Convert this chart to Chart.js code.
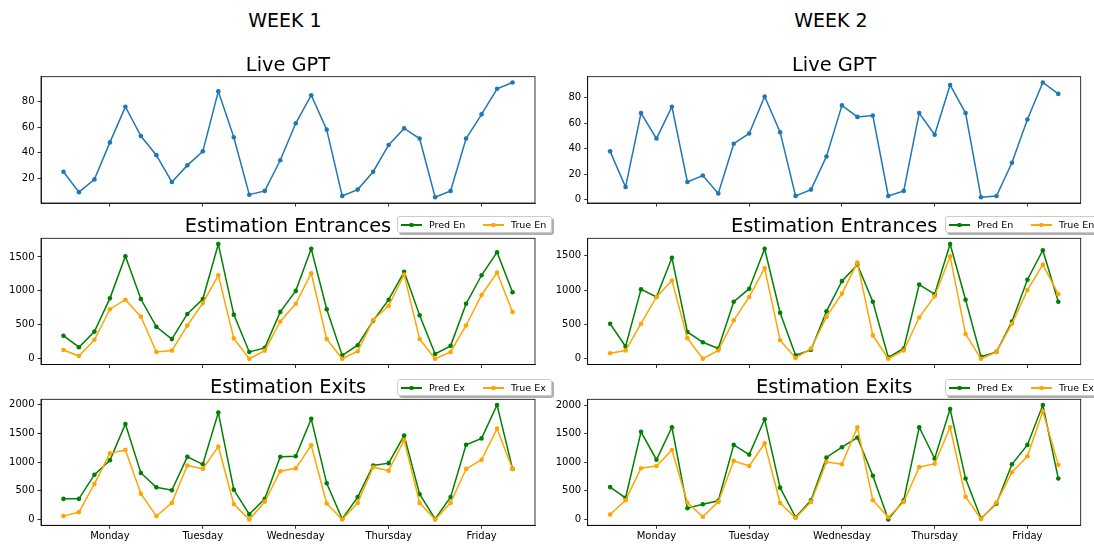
<!DOCTYPE html>
<html>
<head>
<meta charset="utf-8">
<script src="https://cdn.jsdelivr.net/npm/chart.js@4/dist/chart.umd.min.js"></script>
<style>
  html, body { margin: 0; padding: 0; background: #fff; overflow: hidden; }
  #fig { position: relative; width: 1094px; height: 544px; background: #fff; overflow: hidden;
         font-family: "DejaVu Sans", sans-serif; color: #000; }
  canvas.panel { position: absolute; }
  .txt { position: absolute; white-space: nowrap; line-height: 1; transform: translateX(-50%); }
  .legend { position: absolute; width: 155px; height: 17px; box-sizing: border-box;
            border: 1px solid #cccccc; border-radius: 3px; background: rgba(255,255,255,0.85);
            box-shadow: 2px 2px 0 rgba(110,110,110,0.55); font-size: 9.5px; }
  .legend .line { position: absolute; top: 7px; width: 21px; height: 1.5px; }
  .legend .dot { position: absolute; top: 5.5px; width: 4.5px; height: 4.5px; border-radius: 50%; }
  .legend .lab { position: absolute; top: 0; line-height: 15px; }
</style>
</head>
<body>
<div id="fig"></div>
<script>
// Time slots: six per weekday, Monday..Friday
const slots = Array.from({ length: 30 }, (_, i) => i);
const days = ['Monday', 'Tuesday', 'Wednesday', 'Thursday', 'Friday'];
const dayTickPos = [3, 9, 15, 21, 27];

// Week 1
const gptWeek1 = [25, 9, 19, 48, 76, 53, 38, 17, 30, 41, 88, 52, 7, 10, 34, 63, 85, 58, 6, 11, 25, 46, 59, 51, 5, 10, 51, 70, 90, 95];
const predEnWeek1 = [340, 170, 400, 890, 1510, 880, 470, 290, 660, 880, 1690, 650, 100, 160, 690, 1000, 1620, 730, 50, 200, 560, 870, 1280, 640, 70, 190, 810, 1230, 1570, 980];
const trueEnWeek1 = [130, 40, 280, 730, 870, 620, 100, 120, 490, 820, 1230, 300, 0, 120, 550, 810, 1260, 290, 0, 110, 570, 780, 1240, 290, 0, 100, 490, 940, 1270, 690];
const predExWeek1 = [360, 360, 780, 1030, 1660, 810, 560, 510, 1090, 960, 1860, 520, 90, 360, 1090, 1100, 1750, 630, 10, 390, 940, 980, 1460, 440, 10, 390, 1300, 1410, 1990, 880];
const trueExWeek1 = [60, 130, 620, 1150, 1210, 450, 60, 290, 940, 880, 1270, 270, 0, 310, 840, 890, 1290, 280, 0, 290, 910, 850, 1380, 290, 0, 290, 880, 1040, 1580, 880];

// Week 2
const gptWeek2 = [38, 10, 68, 48, 73, 14, 19, 5, 44, 52, 81, 53, 3, 8, 34, 74, 65, 66, 3, 7, 68, 51, 90, 68, 2, 3, 29, 63, 92, 83];
const predEnWeek2 = [510, 180, 1010, 900, 1470, 390, 240, 150, 830, 1020, 1600, 670, 50, 130, 690, 1130, 1370, 830, 20, 150, 1080, 940, 1670, 860, 30, 100, 540, 1150, 1580, 830];
const trueEnWeek2 = [80, 120, 510, 900, 1140, 300, 0, 120, 560, 900, 1320, 270, 10, 150, 610, 950, 1400, 340, 0, 120, 600, 910, 1490, 360, 0, 100, 510, 1000, 1370, 940];
const predExWeek2 = [560, 370, 1530, 1040, 1610, 190, 260, 320, 1300, 1130, 1750, 550, 30, 330, 1080, 1260, 1430, 760, -10, 330, 1610, 1060, 1930, 710, 10, 270, 960, 1300, 2000, 710];
const trueExWeek2 = [80, 330, 890, 930, 1210, 290, 40, 300, 1020, 930, 1330, 280, 20, 300, 1000, 960, 1610, 330, 30, 300, 910, 970, 1610, 390, 0, 290, 820, 1100, 1890, 950];

// Y tick values per panel
const gptTicksWeek1 = [20, 40, 60, 80];
const gptTicksWeek2 = [0, 20, 40, 60, 80];
const enTicks = [0, 500, 1000, 1500];
const exTicks = [0, 500, 1000, 1500, 2000];

const BLUE = '#1f77b4', GREEN = '#008000', ORANGE = '#ffa500';
const FONT = '"DejaVu Sans", sans-serif';
const fig = document.getElementById('fig');

// Axes frame on all four sides of the plot area
const framePlugin = {
  id: 'frame',
  afterDraw(chart) {
    const { ctx, chartArea: a } = chart;
    ctx.save();
    ctx.strokeStyle = '#000';
    ctx.lineWidth = 0.8;
    ctx.strokeRect(a.left, a.top, a.right - a.left, a.bottom - a.top);
    ctx.restore();
  }
};

// Data limits padded by 5% on each side
function paddedRange(series) {
  const all = series.flat();
  const lo = Math.min(...all), hi = Math.max(...all);
  const m = (hi - lo) * 0.05;
  return [lo - m, hi + m];
}

function lineDataset(label, values, color, order) {
  return {
    label, data: values, borderColor: color, backgroundColor: color,
    borderWidth: 1.5, pointRadius: 2.3, pointHoverRadius: 2.3, pointBorderWidth: 0,
    pointBackgroundColor: color, tension: 0, fill: false, order
  };
}

// Column geometry: canvas left, plot left (in canvas), plot right padding
const cols = [
  { left: 0, yw: 41, padR: 12, titleX: 288, supX: 285 },
  { left: 547, yw: 40.7, padR: 13.3, titleX: 834.2, supX: 831 }
];
// Row geometry: canvas top, plot top, plot bottom
const rows = [
  { top: 66, plotTop: 76.7, plotBottom: 203 },
  { top: 228, plotTop: 238.3, plotBottom: 364.5 },
  { top: 389, plotTop: 399.3, plotBottom: 525.3 }
];
const CANVAS_H = 160, CANVAS_W = 547;

function addText(str, cx, baseline, size) {
  const d = document.createElement('div');
  d.className = 'txt';
  d.textContent = str;
  d.style.fontSize = size + 'px';
  d.style.left = cx + 'px';
  d.style.top = (baseline - 0.846 * size) + 'px';
  fig.appendChild(d);
}

function addLegend(chart, left, top) {
  const box = document.createElement('div');
  box.className = 'legend';
  box.style.left = left + 'px';
  box.style.top = top + 'px';
  const offs = [3, 85];
  chart.data.datasets.forEach((ds, i) => {
    const ln = document.createElement('div');
    ln.className = 'line';
    ln.style.left = offs[i] + 'px';
    ln.style.background = ds.borderColor;
    const dt = document.createElement('div');
    dt.className = 'dot';
    dt.style.left = (offs[i] + 8.25) + 'px';
    dt.style.background = ds.borderColor;
    const lb = document.createElement('div');
    lb.className = 'lab';
    lb.style.left = (offs[i] + 28) + 'px';
    lb.textContent = ds.label;
    box.appendChild(ln); box.appendChild(dt); box.appendChild(lb);
  });
  fig.appendChild(box);
}

function makePanel(col, row, datasets, yTicks, showDays) {
  const c = document.createElement('canvas');
  c.className = 'panel';
  c.width = CANVAS_W; c.height = CANVAS_H;
  c.style.left = col.left + 'px';
  c.style.top = row.top + 'px';
  c.style.width = CANVAS_W + 'px';
  c.style.height = CANVAS_H + 'px';
  fig.appendChild(c);

  const padTop = row.plotTop - row.top;
  const plotH = row.plotBottom - row.plotTop;
  const xh = CANVAS_H - padTop - plotH;
  const [ymin, ymax] = paddedRange(datasets.map(d => d.data));

  return new Chart(c.getContext('2d'), {
    type: 'line',
    data: { labels: slots, datasets },
    plugins: [framePlugin],
    options: {
      responsive: false, animation: false, devicePixelRatio: 1,
      layout: { padding: { top: padTop, left: 0, right: col.padR, bottom: 0 } },
      plugins: { legend: { display: false }, title: { display: false }, tooltip: { enabled: false } },
      events: [],
      scales: {
        x: {
          type: 'linear', min: -1.45, max: 30.45,
          afterBuildTicks: ax => { ax.ticks = dayTickPos.map(v => ({ value: v })); },
          afterFit: ax => { ax.height = xh; },
          ticks: {
            autoSkip: false, maxRotation: 0, padding: 2, color: '#000',
            font: { family: FONT, size: 10 },
            callback: v => showDays ? days[dayTickPos.indexOf(v)] : ''
          },
          grid: { drawOnChartArea: false, drawTicks: true, tickLength: 3.5, color: '#000', lineWidth: 0.8 },
          border: { display: true, color: '#000', width: 0.8 }
        },
        y: {
          type: 'linear', min: ymin, max: ymax,
          afterBuildTicks: ax => { ax.ticks = yTicks.map(v => ({ value: v })); },
          afterFit: ax => { ax.width = col.yw; },
          ticks: {
            padding: 3, color: '#000', font: { family: FONT, size: 10 },
            callback: v => String(v)
          },
          grid: { drawOnChartArea: false, drawTicks: true, tickLength: 3.5, color: '#000', lineWidth: 0.8 },
          border: { display: true, color: '#000', width: 0.8 }
        }
      }
    }
  });
}

const weeks = [
  { name: 'WEEK 1', gpt: gptWeek1, gptTicks: gptTicksWeek1, predEn: predEnWeek1, trueEn: trueEnWeek1, predEx: predExWeek1, trueEx: trueExWeek1 },
  { name: 'WEEK 2', gpt: gptWeek2, gptTicks: gptTicksWeek2, predEn: predEnWeek2, trueEn: trueEnWeek2, predEx: predExWeek2, trueEx: trueExWeek2 }
];

weeks.forEach((w, k) => {
  const col = cols[k];
  addText(w.name, col.supX, 26.7, 19);

  makePanel(col, rows[0], [lineDataset('Live GPT', w.gpt, BLUE, 0)], w.gptTicks, false);
  addText('Live GPT', col.titleX, rows[0].plotTop - 5.2, 19.4);

  const en = makePanel(col, rows[1], [
    lineDataset('Pred En', w.predEn, GREEN, 1),
    lineDataset('True En', w.trueEn, ORANGE, 0)
  ], enTicks, false);
  addText('Estimation Entrances', col.titleX, rows[1].plotTop - 5.6, 19.4);

  const ex = makePanel(col, rows[2], [
    lineDataset('Pred Ex', w.predEx, GREEN, 1),
    lineDataset('True Ex', w.trueEx, ORANGE, 0)
  ], exTicks, true);
  addText('Estimation Exits', col.titleX, rows[2].plotTop - 5.6, 19.4);

  const legLeft = col.left + 397;
  addLegend(en, legLeft + (k ? 1 : 0), 216);
  addLegend(ex, legLeft + (k ? 1 : 0), 379);
});
</script>
</body>
</html>
